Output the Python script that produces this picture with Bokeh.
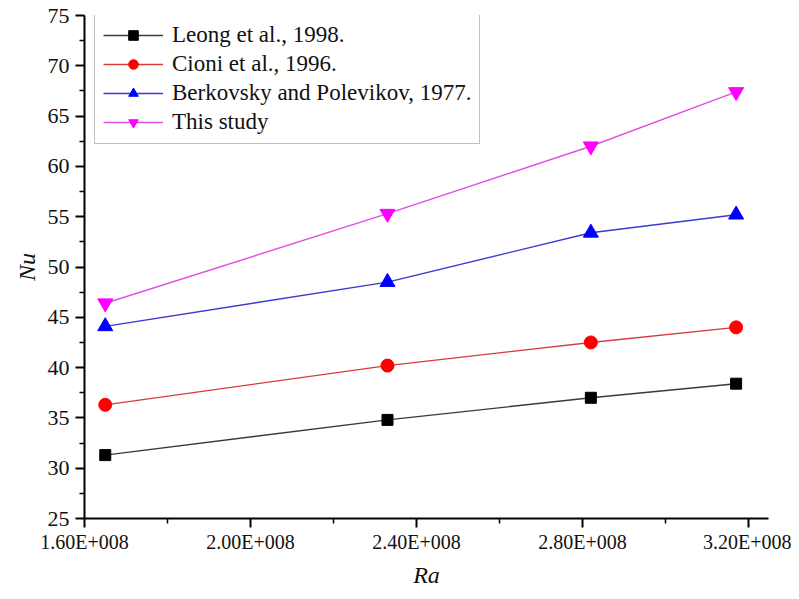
from bokeh.plotting import figure
from bokeh.models import FixedTicker, CustomJSTickFormatter, Range1d
from bokeh.embed import file_html
from bokeh.resources import INLINE

# ---- data ----
ra = [1.65e8, 2.33e8, 2.82e8, 3.17e8]
leong = [31.3, 34.8, 37.0, 38.4]
cioni = [36.3, 40.2, 42.5, 44.0]
berkovsky = [44.1, 48.5, 53.4, 55.2]
this_study = [46.4, 55.3, 62.0, 67.4]

series_names = ["Leong et al., 1998.", "Cioni et al., 1996.",
                "Berkovsky and Polevikov, 1977.", "This study"]

x_major = [1.6e8, 2.0e8, 2.4e8, 2.8e8, 3.2e8]
x_minor = [1.8e8, 2.2e8, 2.6e8, 3.0e8]
y_major = [25, 30, 35, 40, 45, 50, 55, 60, 65, 70, 75]
y_minor = [27.5, 32.5, 37.5, 42.5, 47.5, 52.5, 57.5, 62.5, 67.5, 72.5]

FONT = "Liberation Serif"

p = figure(width=791, height=591, output_backend="svg", toolbar_location=None,
           x_range=Range1d(1.6e8, 3.248e8), y_range=Range1d(25, 75),
           min_border_left=84, min_border_right=23, min_border_top=15,
           min_border_bottom=73)
p.outline_line_color = None
p.xgrid.visible = False
p.ygrid.visible = False
p.background_fill_color = "white"

styles = [
    dict(data=leong, line="#3a3a3a", fill="#000000", marker="square", size=11),
    dict(data=cioni, line="#d83a3a", fill="#ff0000", marker="circle", size=13),
    dict(data=berkovsky, line="#3a3ad0", fill="#0000ff", marker="triangle", size=15),
    dict(data=this_study, line="#e050e0", fill="#ff00ff", marker="inverted_triangle", size=15),
]

for name, st in zip(series_names, styles):
    p.line(ra, st["data"], line_color=st["line"], line_width=1.4, legend_label=name)
    p.scatter(ra, st["data"], marker=st["marker"], size=st["size"],
              fill_color=st["fill"], line_color=st["fill"], legend_label=name)

for ax in (p.xaxis[0], p.yaxis[0]):
    ax.axis_line_width = 2
    ax.axis_line_color = "black"
    ax.major_tick_line_width = 2
    ax.minor_tick_line_width = 1.5
    ax.major_tick_out = 9
    ax.major_tick_in = 0
    ax.minor_tick_out = 5
    ax.minor_tick_in = 0
    ax.major_label_text_font = FONT
    ax.major_label_text_font_size = "22px"
    ax.major_label_text_color = "#111111"
    ax.axis_label_text_font = FONT
    ax.axis_label_text_font_style = "italic"
    ax.axis_label_text_font_size = "24px"
    ax.axis_label_text_color = "#111111"

p.xaxis[0].major_label_text_font_size = "20px"
p.xaxis[0].ticker = FixedTicker(ticks=x_major, minor_ticks=x_minor)
p.yaxis[0].ticker = FixedTicker(ticks=y_major, minor_ticks=y_minor)
p.xaxis[0].formatter = CustomJSTickFormatter(code="""
    const e = Math.floor(Math.log10(tick) + 1e-9);
    const m = tick / Math.pow(10, e);
    return m.toFixed(2) + "E+" + String(e).padStart(3, "0");
""")
p.xaxis[0].major_label_standoff = 3
p.yaxis[0].major_label_standoff = 6
p.xaxis[0].axis_label = "Ra"
p.yaxis[0].axis_label = "Nu"
p.xaxis[0].axis_label_standoff = 6
p.yaxis[0].axis_label_standoff = 5

lg = p.legend[0]
lg.location = (10, 374)
lg.label_text_font = FONT
lg.label_text_font_size = "23px"
lg.label_text_color = "#111111"
lg.border_line_color = "#808080"
lg.border_line_width = 1.5
lg.background_fill_alpha = 1.0
lg.padding = 8
lg.spacing = 3
lg.glyph_width = 60
lg.glyph_height = 24
lg.label_height = 24
lg.label_standoff = 9
lg.margin = 0

open("out.html", "w").write(file_html(p, INLINE))
